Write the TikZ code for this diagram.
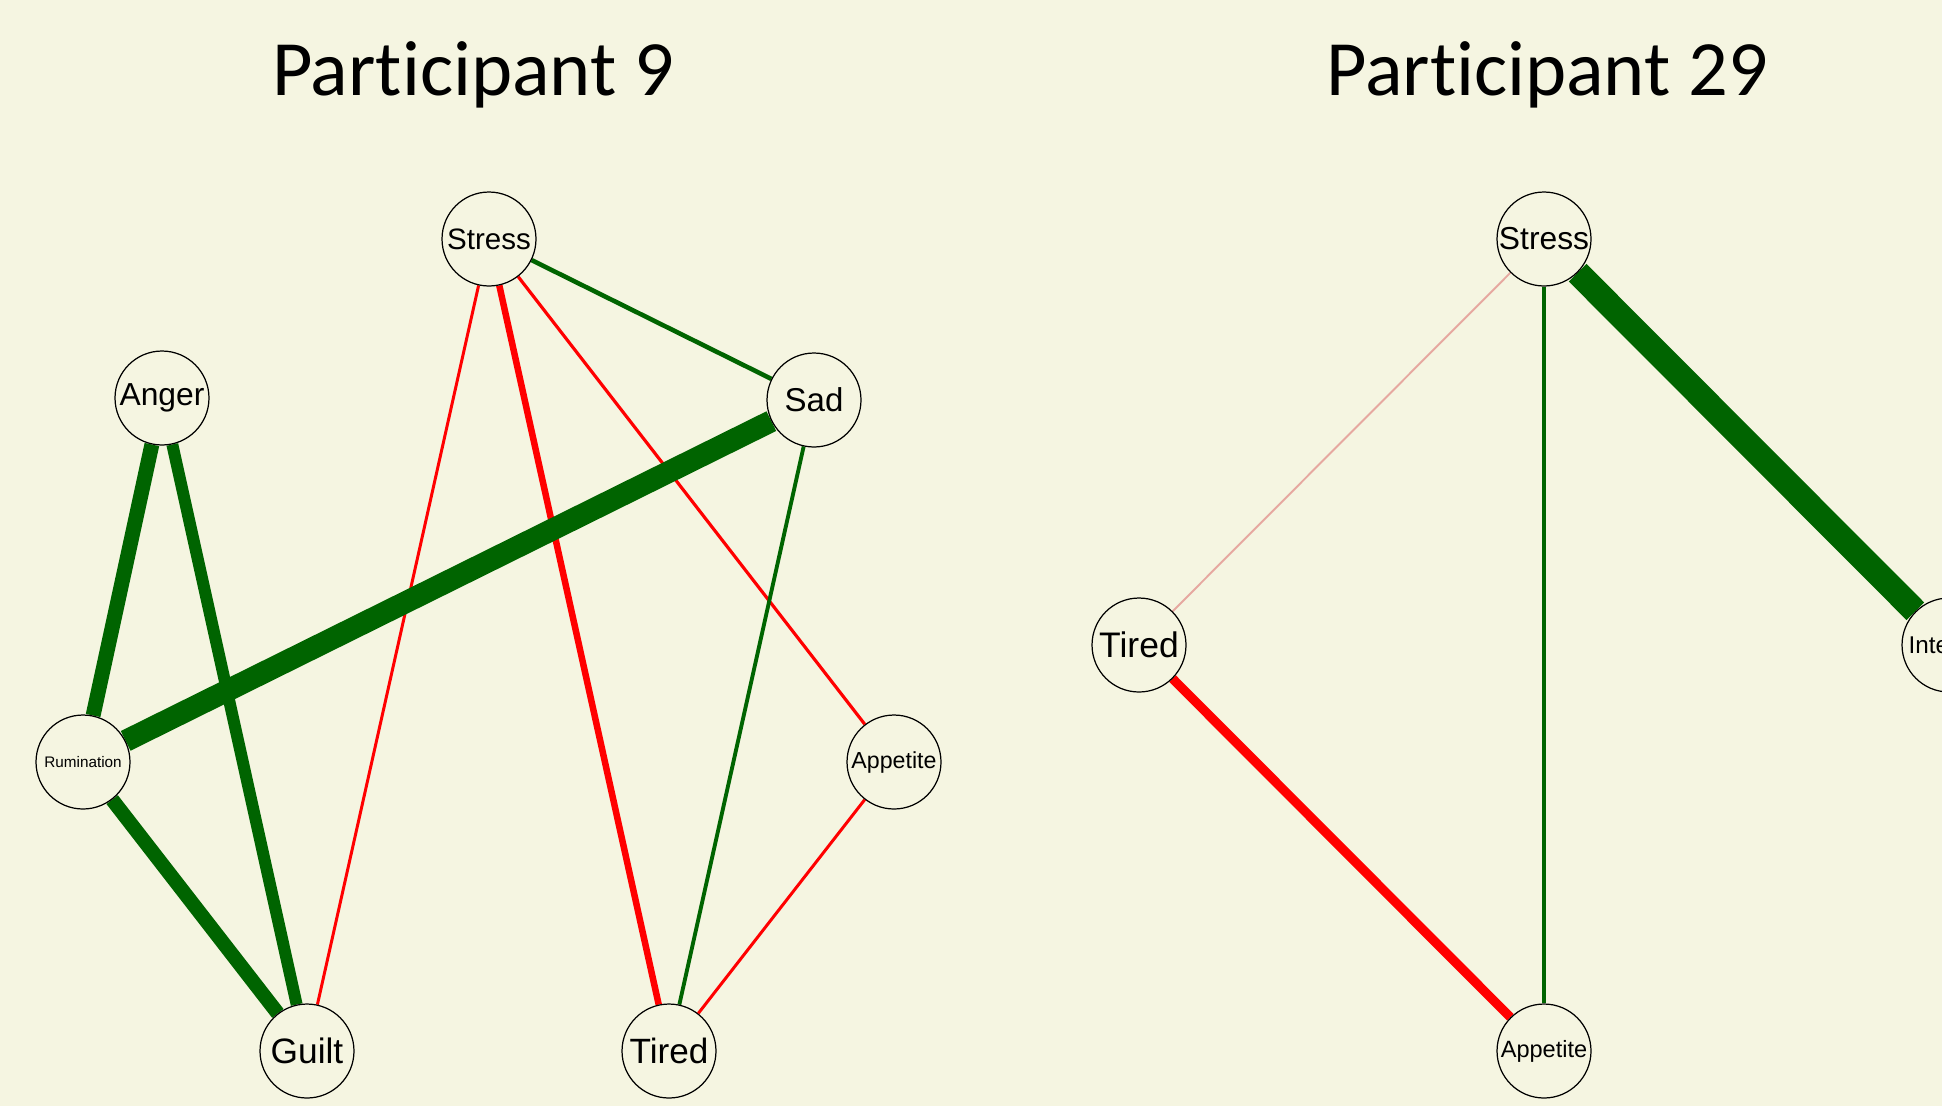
\documentclass[tikz,border=0pt]{standalone}
\usepackage{fontspec}
\setmainfont{Liberation Sans}
\newfontfamily\titlefont[Ligatures=NoCommon]{Carlito}
\usetikzlibrary{backgrounds}

\definecolor{bgcream}{RGB}{245,245,225}
\definecolor{dkgreen}{RGB}{0,100,0}
\definecolor{faintred}{RGB}{230,168,160}
\newcommand{\lblsize}[1]{\fontsize{#1}{#1}\selectfont}

\begin{document}
\begin{tikzpicture}[x=0.02cm, y=-0.02cm,
  var/.style={circle, draw=black, line width=0.7pt, fill=bgcream,
    minimum size=1.88cm, inner sep=0pt},
  title/.style={font=\titlefont\lblsize{44.6}, anchor=base},
  posedge/.style={dkgreen, line width=#1},
  negedge/.style={red, line width=#1}]
  \useasboundingbox (0,0) rectangle (1942,1106);
  \clip (0,0) rectangle (1942,1106);

  % Participant 9
  \node[title] (titleA) at (473,95) {Participant 9};
  \node[var, font=\lblsize{16.8}] (stressA) at (489,239) {Stress};
  \node[var, font=\lblsize{18.1}] (angerA) at (162,398) {Anger};
  \node[var, font=\lblsize{18.8}] (sadA) at (814,400) {Sad};
  \node[var, font=\lblsize{8.7}] (rumA) at (83,762) {Rumination};
  \node[var, font=\lblsize{13.2}] (appA) at (894,762) {Appetite};
  \node[var, font=\lblsize{20.1}] (guiltA) at (307,1051) {Guilt};
  \node[var, font=\lblsize{20}] (tiredA) at (669,1051) {Tired};

  % Participant 29
  \node[title] (titleB) at (1547,95) {Participant 29};
  \node[var, font=\lblsize{18.1}] (stressB) at (1544,239) {Stress};
  \node[var, font=\lblsize{20.2}] (tiredB) at (1139,645) {Tired};
  \node[var, font=\lblsize{13.8}] (intB) at (1949,645) {Interest};
  \node[var, font=\lblsize{13.4}] (appB) at (1544,1051) {Appetite};

  \begin{pgfonlayer}{background}
    \fill[bgcream] (0,0) rectangle (1942,1106);
    % edges, participant 9
    \draw[negedge=1.7pt] (stressA) -- (guiltA);
    \draw[negedge=3.7pt] (stressA) -- (tiredA);
    \draw[negedge=1.8pt] (stressA) -- (appA);
    \draw[negedge=1.7pt] (appA) -- (tiredA);
    \draw[posedge=2.6pt] (stressA) -- (sadA);
    \draw[posedge=2.2pt] (sadA) -- (tiredA);
    \draw[posedge=8.5pt] (angerA) -- (rumA);
    \draw[posedge=6.8pt] (angerA) -- (guiltA);
    \draw[posedge=8.2pt] (rumA) -- (guiltA);
    \draw[posedge=12.5pt] (rumA) -- (sadA);
    % edges, participant 29
    \draw[faintred, line width=1.1pt] (stressB) -- (tiredB);
    \draw[negedge=5.3pt] (tiredB) -- (appB);
    \draw[posedge=2.4pt] (stressB) -- (appB);
    \draw[posedge=14.2pt] (stressB) -- (intB);
  \end{pgfonlayer}
\end{tikzpicture}
\end{document}
